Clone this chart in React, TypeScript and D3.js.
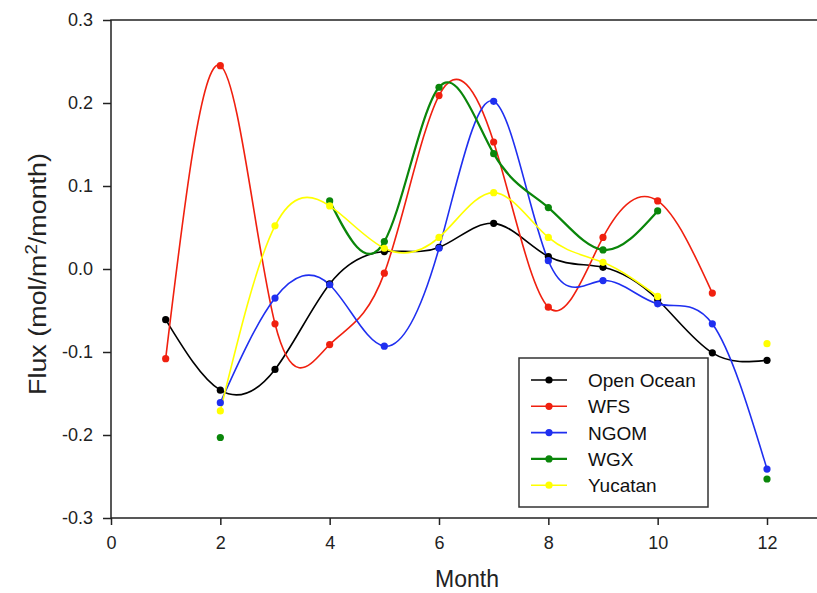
import React, { useEffect, useRef } from "react";
import * as d3 from "d3";

// mois 1..12
const months = [1, 2, 3, 4, 5, 6, 7, 8, 9, 10, 11, 12];

// flux par région (null = pas de donnée)
const openOcean = [-0.061, -0.146, -0.121, -0.018, 0.021, 0.026, 0.055, 0.015, 0.002, -0.037, -0.101, -0.110];
const wfs = [-0.108, 0.245, -0.066, -0.091, -0.005, 0.209, 0.153, -0.046, 0.038, 0.082, -0.029, null];
const ngom = [null, -0.161, -0.035, -0.019, -0.093, 0.025, 0.202, 0.010, -0.014, -0.042, -0.066, -0.241];
const wgx = [null, -0.203, null, 0.082, 0.033, 0.219, 0.139, 0.074, 0.023, 0.070, null, -0.253];
const yucatan = [null, -0.171, 0.052, 0.076, 0.025, 0.038, 0.092, 0.038, 0.008, -0.033, null, -0.090];

const seriesNames = ["Open Ocean", "WFS", "NGOM", "WGX", "Yucatan"];
const seriesValues = [openOcean, wfs, ngom, wgx, yucatan];
const seriesColors = ["#000000", "#f0200f", "#1f2ff0", "#0a860a", "#ffff00"];

const xTicks = [0, 2, 4, 6, 8, 10, 12];
const yTicks = [-0.3, -0.2, -0.1, 0.0, 0.1, 0.2, 0.3];

const FONT = "'Liberation Sans', Arial, sans-serif";

const App = () => {
    const svgRef = useRef<SVGSVGElement>(null);

    useEffect(() => {
        const width = 817;
        const left = 111, top = 20, bottom = 518;

        const svg = d3.select(svgRef.current);
        svg.selectAll("*").remove();

        const x = d3.scaleLinear().domain([0, 12]).range([left, 767]);
        const y = d3.scaleLinear().domain([-0.3, 0.3]).range([bottom, top]);

        // axe x
        const gx = svg.append("g")
            .attr("transform", `translate(0,${bottom})`)
            .call(d3.axisBottom(x).tickValues(xTicks).tickSize(7).tickSizeOuter(0).tickPadding(11).tickFormat(d => String(d)));
        gx.select(".domain").remove();
        gx.selectAll("line").attr("stroke", "#222").attr("stroke-width", 1.5);
        gx.selectAll("text").attr("fill", "#222").style("font-family", FONT).style("font-size", "18px");

        // axe y
        const gy = svg.append("g")
            .attr("transform", `translate(${left},0)`)
            .call(d3.axisLeft(y).tickValues(yTicks).tickSize(8).tickSizeOuter(0).tickPadding(10).tickFormat(d => (+d).toFixed(1)));
        gy.select(".domain").remove();
        gy.selectAll("line").attr("stroke", "#222").attr("stroke-width", 1.5);
        gy.selectAll("text").attr("fill", "#222").style("font-family", FONT).style("font-size", "18px");

        // cadre
        svg.append("path")
            .attr("d", `M${width},${top}H${left}V${bottom}H${width}`)
            .attr("fill", "none")
            .attr("stroke", "#222")
            .attr("stroke-width", 1.5);

        // courbes
        const line = d3.line<number | null>()
            .defined(d => d !== null)
            .x((d, i) => x(months[i]))
            .y(d => y(d as number))
            .curve(d3.curveNatural);

        seriesValues.forEach((vals, k) => {
            svg.append("path")
                .datum(vals)
                .attr("d", line)
                .attr("fill", "none")
                .attr("stroke", seriesColors[k])
                .attr("stroke-width", k === 3 ? 2.2 : 1.6);
        });

        seriesValues.forEach((vals, k) => {
            svg.append("g")
                .selectAll("circle")
                .data(vals.map((v, i) => ({ m: months[i], v })).filter(d => d.v !== null))
                .join("circle")
                .attr("cx", d => x(d.m))
                .attr("cy", d => y(d.v as number))
                .attr("r", 3.6)
                .attr("fill", seriesColors[k]);
        });

        // légende
        const legend = svg.append("g").attr("transform", "translate(519,358)");
        legend.append("rect")
            .attr("width", 189)
            .attr("height", 149)
            .attr("fill", "white")
            .attr("stroke", "#333")
            .attr("stroke-width", 1.5);

        seriesNames.forEach((name, k) => {
            const ly = 22 + k * 26.3;
            legend.append("line")
                .attr("x1", 12).attr("x2", 48)
                .attr("y1", ly).attr("y2", ly)
                .attr("stroke", seriesColors[k])
                .attr("stroke-width", k === 3 ? 2.2 : 1.6);
            legend.append("circle")
                .attr("cx", 30).attr("cy", ly).attr("r", 3.6)
                .attr("fill", seriesColors[k]);
            legend.append("text")
                .attr("x", 69).attr("y", ly + 7)
                .style("font-family", FONT)
                .style("font-size", "19px")
                .attr("fill", "#111")
                .text(name);
        });

        // titres des axes
        svg.append("text")
            .attr("x", 467).attr("y", 587)
            .attr("text-anchor", "middle")
            .style("font-family", FONT)
            .style("font-size", "23px")
            .attr("fill", "#222")
            .text("Month");

        const yl = svg.append("text")
            .attr("transform", `translate(46,274) rotate(-90)`)
            .attr("text-anchor", "middle")
            .attr("textLength", 242)
            .attr("lengthAdjust", "spacingAndGlyphs")
            .style("font-family", FONT)
            .style("font-size", "23px")
            .attr("fill", "#222");
        yl.append("tspan").text("Flux (mol/m");
        yl.append("tspan").attr("dy", -9).style("font-size", "16px").text("2");
        yl.append("tspan").attr("dy", 9).text("/month)");
    }, []);

    return (
        <svg ref={svgRef} width={817} height={593}
            style={{ position: "absolute", left: 0, top: 0, background: "white" }} />
    );
};

export default App;
